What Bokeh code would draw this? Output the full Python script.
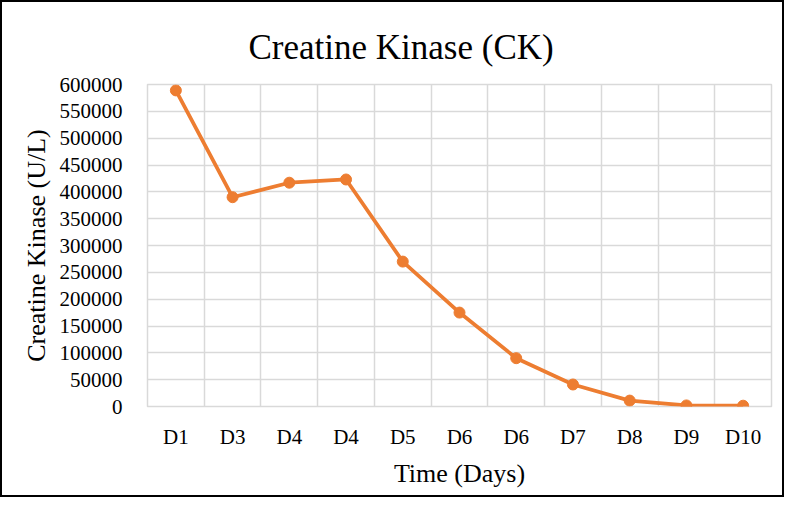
from bokeh.plotting import figure
from bokeh.models import FixedTicker, ColumnDataSource, Range1d
from bokeh.embed import file_html
from bokeh.resources import INLINE

categories = ["D1", "D3", "D4", "D4", "D5", "D6", "D6", "D7", "D8", "D9", "D10"]
ck_values = [589000, 390000, 417000, 423000, 270000, 175000, 90000, 41000, 11000, 2000, 1500]
y_ticks = list(range(0, 600001, 50000))

positions = list(range(len(categories)))
src = ColumnDataSource(dict(x=positions, y=ck_values))

FONT = "Liberation Serif"
ORANGE = "#ED7D31"
GRID = "#d9d9d9"

p = figure(width=784, height=497, output_backend="svg", toolbar_location=None,
           x_range=Range1d(-0.5, len(categories) - 0.5), y_range=Range1d(0, 600000),
           min_border_left=145, min_border_right=15, min_border_top=82, min_border_bottom=93)
p.styles = {"border": "2px solid black", "box-sizing": "border-box"}

p.title.text = "Creatine Kinase (CK)"
p.title.text_font = FONT
p.title.text_font_size = "35px"
p.title.text_font_style = "normal"
p.title.text_color = "black"
p.title.align = "left"
p.title.offset = 101
p.title.standoff = 36

p.line("x", "y", source=src, line_color=ORANGE, line_width=3.75)
p.scatter("x", "y", source=src, size=11, fill_color=ORANGE, line_color=ORANGE)

p.xaxis.ticker = FixedTicker(ticks=positions)
p.xaxis.major_label_overrides = {i: c for i, c in enumerate(categories)}
p.yaxis.ticker = FixedTicker(ticks=y_ticks)
p.yaxis.formatter.use_scientific = False
for ax in (p.xaxis[0], p.yaxis[0]):
    ax.axis_line_color = None
    ax.major_tick_line_color = None
    ax.minor_tick_line_color = None
    ax.major_label_text_font = FONT
    ax.major_label_text_font_size = "21px"
    ax.major_label_text_color = "black"
    ax.axis_label_text_font = FONT
    ax.axis_label_text_font_size = "26px"
    ax.axis_label_text_font_style = "normal"
    ax.axis_label_text_color = "black"
p.xaxis.axis_label = "Time (Days)"
p.yaxis.axis_label = "Creatine Kinase (U/L)"
p.xaxis.major_label_standoff = 12
p.yaxis.major_label_standoff = 19
p.xaxis.axis_label_standoff = 7
p.yaxis.axis_label_standoff = 6

p.xgrid.ticker = FixedTicker(ticks=[i - 0.5 for i in range(len(categories) + 1)])
p.ygrid.ticker = FixedTicker(ticks=y_ticks)
p.xgrid.grid_line_color = GRID
p.ygrid.grid_line_color = GRID
p.xgrid.grid_line_width = 1.5
p.ygrid.grid_line_width = 1.5
p.outline_line_color = GRID
p.outline_line_width = 1.5

open("out.html", "w").write(file_html(p, INLINE))
